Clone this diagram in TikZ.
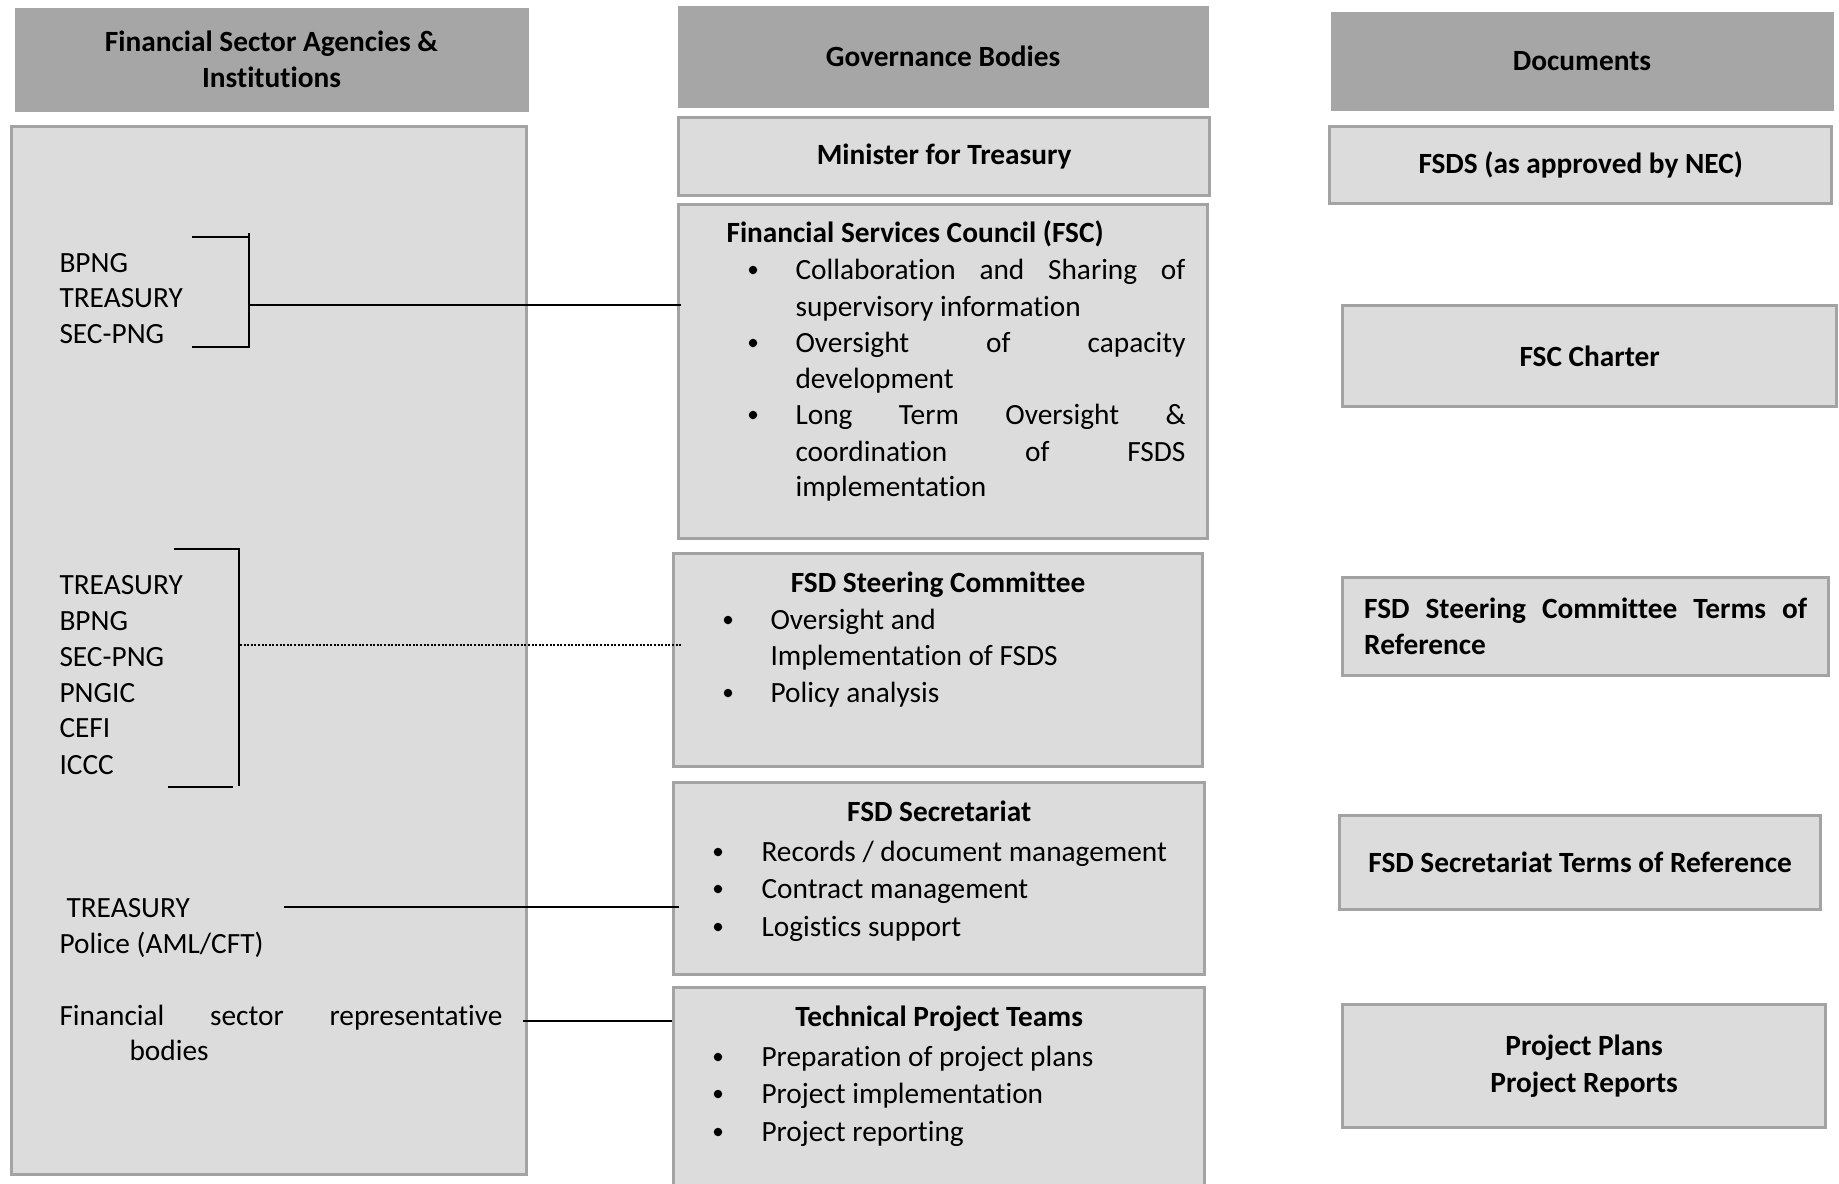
\documentclass[tikz,border=0pt]{standalone}
\usepackage{fontspec}
\setmainfont{Carlito}[Ligatures=NoCommon]
\usetikzlibrary{positioning}

\definecolor{headgray}{RGB}{166,166,166}
\definecolor{boxgray}{RGB}{220,220,220}
\definecolor{rimgray}{RGB}{163,163,163}

\newdimen\px \px=0.375pt
\newcommand{\bodyfont}{\fontsize{11}{13.6}\selectfont}
\newcommand{\titlefont}{\fontsize{11}{13.6}\selectfont\bfseries}

\tikzset{
    head/.style={fill=headgray, anchor=north west, inner sep=0pt, font=\titlefont, align=center},
    panel/.style={fill=boxgray, draw=rimgray, line width=1.25pt, anchor=north west, inner sep=0pt, font=\titlefont, align=center},
    txt/.style={anchor=west, inner sep=0pt, text height=7pt, text depth=0pt},
    ttl/.style={inner sep=0pt, font=\titlefont, text height=7pt, text depth=0pt},
    dot/.style={circle, fill=black, inner sep=0pt, minimum size=8.5\px},
    link/.style={line width=0.75pt},
    brace/.style={line width=0.95pt},
    dots/.style={dash pattern=on 0.75pt off 0.6pt}
}

\begin{document}
\begin{tikzpicture}[x=0.375pt, y=-0.375pt, font=\bodyfont]
        \useasboundingbox (0,0) rectangle (1839,1183);
        \clip (0,0) rectangle (1839,1183);

        % Column headers:
        \node[head, minimum width=514\px, minimum height=104\px] (hdrA) at (14,7) {Financial Sector Agencies \&\\Institutions};
        \node[head, minimum width=531\px, minimum height=102\px] (hdrB) at (677,5) {Governance Bodies};
        \node[head, minimum width=503\px, minimum height=99\px] (hdrC) at (1330,11) {Documents};

        % Agencies column:
        \node[panel, minimum width=515\px, minimum height=1048\px] (agencies) at (10,125) {};
        \foreach \y/\t in {263/BPNG, 298/TREASURY, 334/SEC-PNG}{%
            \node[txt] at (59,\y) {\t};
        }
        \foreach \y/\t in {585/TREASURY, 621/BPNG, 657/SEC-PNG, 693/PNGIC, 728/CEFI, 765/ICCC}{%
            \node[txt] at (59,\y) {\t};
        }
        \node[txt] (treas) at (66,908) {TREASURY};
        \node[txt] (police) at (59,944) {Police (AML/CFT)};
        \node[txt] (fsrA) at (59,1016) {\makebox[443\px][s]{Financial sector representative}};
        \node[txt] (fsrB) at (129,1051) {bodies};

        % Governance column:
        \node[panel, minimum width=531\px, minimum height=78\px] (minister) at (677,116) {Minister for Treasury};
        \node[panel, minimum width=529\px, minimum height=334\px] (fsc) at (677,203) {};
        \node[panel, minimum width=529\px, minimum height=213\px] (steer) at (672,552) {};
        \node[panel, minimum width=531\px, minimum height=192\px] (secr) at (672,781) {};
        \node[panel, minimum width=531\px, minimum height=260\px] (tpt) at (672,986) {};

        \node[ttl, anchor=west] (fscT) at (726,233) {Financial Services Council (FSC)};
        \foreach \y in {270,343,415} \node[dot] at (753,\y) {};
        \foreach \y/\t in {270/{\makebox[390\px][s]{Collaboration and Sharing of}}, 307/{supervisory information},
                           343/{\makebox[390\px][s]{Oversight of capacity}}, 379/{development},
                           415/{\makebox[390\px][s]{Long Term Oversight \&}}, 452/{\makebox[390\px][s]{coordination of FSDS}},
                           487/{implementation}}{%
            \node[txt] at (795,\y) {\t};
        }

        \node[ttl] (steerT) at (steer.center |- 0,583) {FSD Steering Committee};
        \foreach \y in {620,693} \node[dot] at (728,\y) {};
        \foreach \y/\t in {620/{Oversight and}, 656/{Implementation of FSDS}, 693/{Policy analysis}}{%
            \node[txt] at (770,\y) {\t};
        }

        \node[ttl] (secrT) at (secr.center |- 0,812) {FSD Secretariat};
        \foreach \y/\t in {852/{Records / document management}, 889/{Contract management}, 927/{Logistics support}}{%
            \node[dot] at (718,\y) {};
            \node[txt] at (761,\y) {\t};
        }

        \node[ttl] (tptT) at (tpt.center |- 0,1017) {Technical Project Teams};
        \foreach \y/\t in {1057/{Preparation of project plans}, 1094/{Project implementation}, 1132/{Project reporting}}{%
            \node[dot] at (718,\y) {};
            \node[txt] at (761,\y) {\t};
        }

        % Documents column:
        \node[panel, minimum width=502\px, minimum height=77\px] (fsds) at (1328,125) {FSDS (as approved by NEC)};
        \node[panel, minimum width=494\px, minimum height=101\px] (charter) at (1341,304) {FSC Charter};
        \node[panel, minimum width=486\px, minimum height=98\px, align=left] (steertor) at (1341,576) {\makebox[443\px][s]{FSD Steering Committee Terms of}\\Reference};
        \node[panel, minimum width=481\px, minimum height=94\px] (secrtor) at (1338,814) {FSD Secretariat Terms of Reference};
        \node[panel, minimum width=483\px, minimum height=123\px] (plans) at (1341,1003) {Project Plans\\Project Reports};

        % Brackets and links:
        \draw[brace] (192,237) -- (250,237);
        \draw[brace] (249,233) -- (249,347);
        \draw[brace] (192,347) -- (250,347);
        \coordinate (brkA) at (249,305);
        \draw[link, shorten >=-4\px] (brkA) -- (brkA -| fsc.west);

        \draw[brace] (174,549) -- (240,549);
        \draw[brace] (239,549) -- (239,786);
        \draw[brace] (168,787) -- (233,787);
        \coordinate (brkB) at (240,645);
        \draw[link, dots, shorten >=-9\px] (brkB) -- (brkB -| steer.west);

        \coordinate (treasEnd) at (284,907);
        \draw[link, shorten >=-7\px] (treasEnd) -- (treasEnd -| secr.west);

        \coordinate (fsrEnd) at (523,1021);
        \draw[link] (fsrEnd) -- (fsrEnd -| tpt.west);
    \end{tikzpicture}
\end{document}
